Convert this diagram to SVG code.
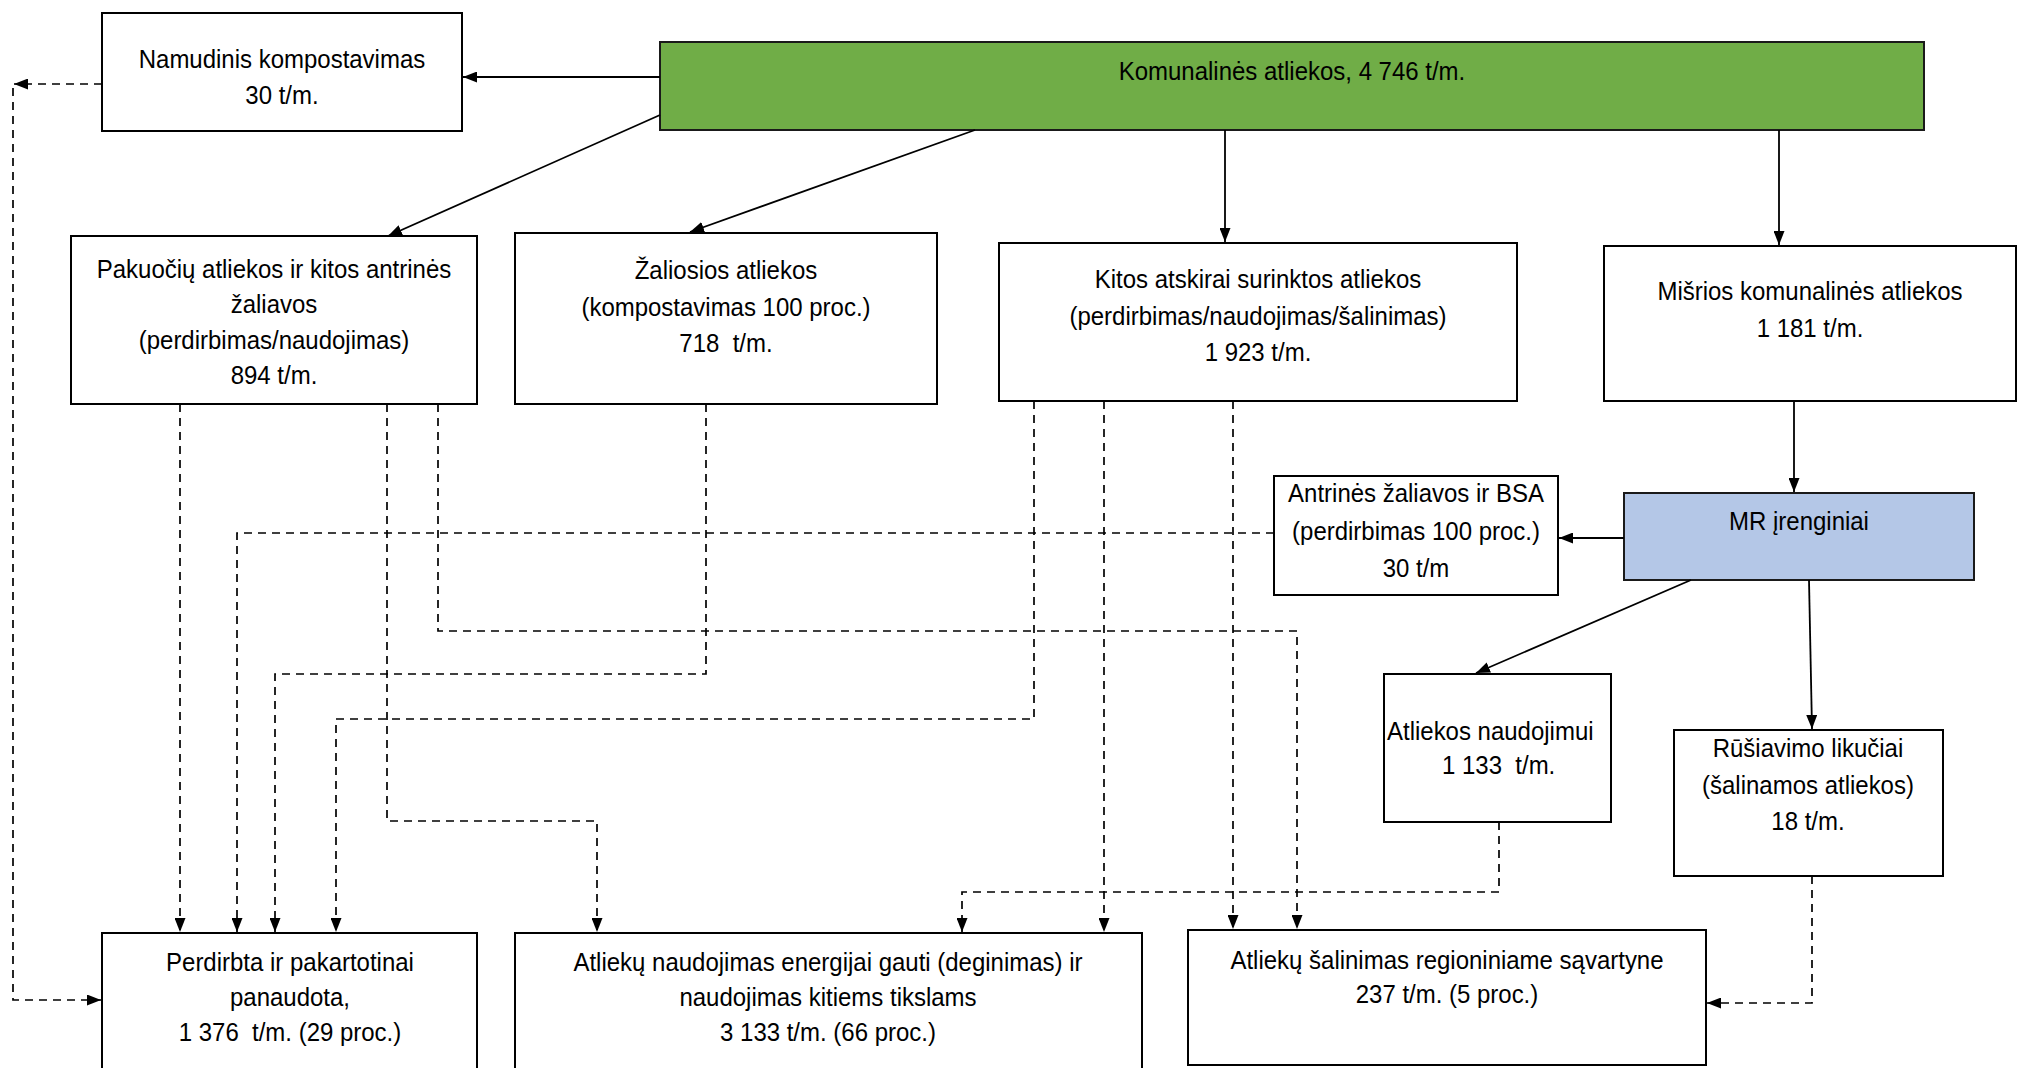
<svg xmlns="http://www.w3.org/2000/svg" width="2018" height="1068" viewBox="0 0 2018 1068">
<style>
.box{fill:#fff;stroke:#000;stroke-width:2}
.green{fill:#70AD47;stroke:#1a1a1a;stroke-width:2}
.blue{fill:#B4C7E7;stroke:#1a1a1a;stroke-width:2}
text{font-family:"Liberation Sans",Arial,sans-serif;font-size:26.5px;fill:#000;text-anchor:middle;transform-box:fill-box;transform-origin:center;transform:scaleX(0.905)}
text.l{text-anchor:start;transform-origin:left center}
.s{fill:none;stroke:#000;stroke-width:1.8}
.d{fill:none;stroke:#000;stroke-width:1.7;stroke-dasharray:8 6}
</style>
<defs>
<marker id="ah" viewBox="0 0 14 11" refX="14" refY="5.5" markerWidth="14" markerHeight="11" markerUnits="userSpaceOnUse" orient="auto">
<path d="M0,0 L14,5.5 L0,11 Z" fill="#000"/>
</marker>
</defs>
<rect width="2018" height="1068" fill="#fff"/>

<g id="n-namudinis">
<rect class="box" x="102" y="13" width="360" height="118"/>
<text x="282" y="68">Namudinis kompostavimas</text>
<text x="282" y="104">30 t/m.</text>
</g>
<g id="n-komunalines">
<rect class="green" x="660" y="42" width="1264" height="88"/>
<text x="1292" y="80">Komunalinės atliekos, 4 746 t/m.</text>
</g>
<g id="n-pakuociu">
<rect class="box" x="71" y="236" width="406" height="168"/>
<text x="274" y="278">Pakuočių atliekos ir kitos antrinės</text>
<text x="274" y="313">žaliavos</text>
<text x="274" y="349">(perdirbimas/naudojimas)</text>
<text x="274" y="384">894 t/m.</text>
</g>
<g id="n-zaliosios">
<rect class="box" x="515" y="233" width="422" height="171"/>
<text x="726" y="279">Žaliosios atliekos</text>
<text x="726" y="316">(kompostavimas 100 proc.)</text>
<text x="726" y="352">718&#160; t/m.</text>
</g>
<g id="n-kitos">
<rect class="box" x="999" y="243" width="518" height="158"/>
<text x="1258" y="288">Kitos atskirai surinktos atliekos</text>
<text x="1258" y="325">(perdirbimas/naudojimas/šalinimas)</text>
<text x="1258" y="361">1 923 t/m.</text>
</g>
<g id="n-misrios">
<rect class="box" x="1604" y="246" width="412" height="155"/>
<text x="1810" y="300">Mišrios komunalinės atliekos</text>
<text x="1810" y="337">1 181 t/m.</text>
</g>
<g id="n-bsa">
<rect class="box" x="1274" y="476" width="284" height="119"/>
<text x="1416" y="502">Antrinės žaliavos ir BSA</text>
<text x="1416" y="540">(perdirbimas 100 proc.)</text>
<text x="1416" y="577">30 t/m</text>
</g>
<g id="n-mr">
<rect class="blue" x="1624" y="493" width="350" height="87"/>
<text x="1799" y="530">MR įrenginiai</text>
</g>
<g id="n-naudojimui">
<rect class="box" x="1384" y="674" width="227" height="148"/>
<text class="l" x="1387" y="740">Atliekos naudojimui</text>
<text class="l" x="1442" y="774">1 133&#160; t/m.</text>
</g>
<g id="n-rusiavimo">
<rect class="box" x="1674" y="730" width="269" height="146"/>
<text x="1808" y="757">Rūšiavimo likučiai</text>
<text x="1808" y="794">(šalinamos atliekos)</text>
<text x="1808" y="830">18 t/m.</text>
</g>
<g id="n-perdirbta">
<rect class="box" x="102" y="933" width="375" height="160"/>
<text x="290" y="971">Perdirbta ir pakartotinai</text>
<text x="290" y="1006">panaudota,</text>
<text x="290" y="1041">1 376&#160; t/m. (29 proc.)</text>
</g>
<g id="n-energija">
<rect class="box" x="515" y="933" width="627" height="160"/>
<text x="828" y="971">Atliekų naudojimas energijai gauti (deginimas) ir</text>
<text x="828" y="1006">naudojimas kitiems tikslams</text>
<text x="828" y="1041">3 133 t/m. (66 proc.)</text>
</g>
<g id="n-salinimas">
<rect class="box" x="1188" y="930" width="518" height="135"/>
<text x="1447" y="969">Atliekų šalinimas regioniniame sąvartyne</text>
<text x="1447" y="1003">237 t/m. (5 proc.)</text>
</g>

<g id="connectors">
<path class="s" d="M660,77 H463" marker-end="url(#ah)"/>
<path class="s" d="M660,115 L388,236" marker-end="url(#ah)"/>
<path class="s" d="M975,130 L690,232" marker-end="url(#ah)"/>
<path class="s" d="M1225,130 V242" marker-end="url(#ah)"/>
<path class="s" d="M1779,130 V245" marker-end="url(#ah)"/>
<path class="s" d="M1794,401 V492" marker-end="url(#ah)"/>
<path class="s" d="M1624,538 H1559" marker-end="url(#ah)"/>
<path class="s" d="M1691,580 L1476,673" marker-end="url(#ah)"/>
<path class="s" d="M1809,580 L1812,729" marker-end="url(#ah)"/>

<path class="d" d="M102,84 H14" marker-end="url(#ah)"/>
<path class="d" d="M13,88 V1000 H101" marker-end="url(#ah)"/>
<path class="d" d="M180,404 V932" marker-end="url(#ah)"/>
<path class="d" d="M387,404 V821 H597 V932" marker-end="url(#ah)"/>
<path class="d" d="M438,404 V631 H1297 V929" marker-end="url(#ah)"/>
<path class="d" d="M1274,533 H237 V932" marker-end="url(#ah)"/>
<path class="d" d="M706,404 V674 H275 V932" marker-end="url(#ah)"/>
<path class="d" d="M1034,401 V719 H336 V932" marker-end="url(#ah)"/>
<path class="d" d="M1104,401 V932" marker-end="url(#ah)"/>
<path class="d" d="M1233,401 V929" marker-end="url(#ah)"/>
<path class="d" d="M1499,822 V892 H962 V932" marker-end="url(#ah)"/>
<path class="d" d="M1812,876 V1003 H1707" marker-end="url(#ah)"/>
</g>
</svg>
